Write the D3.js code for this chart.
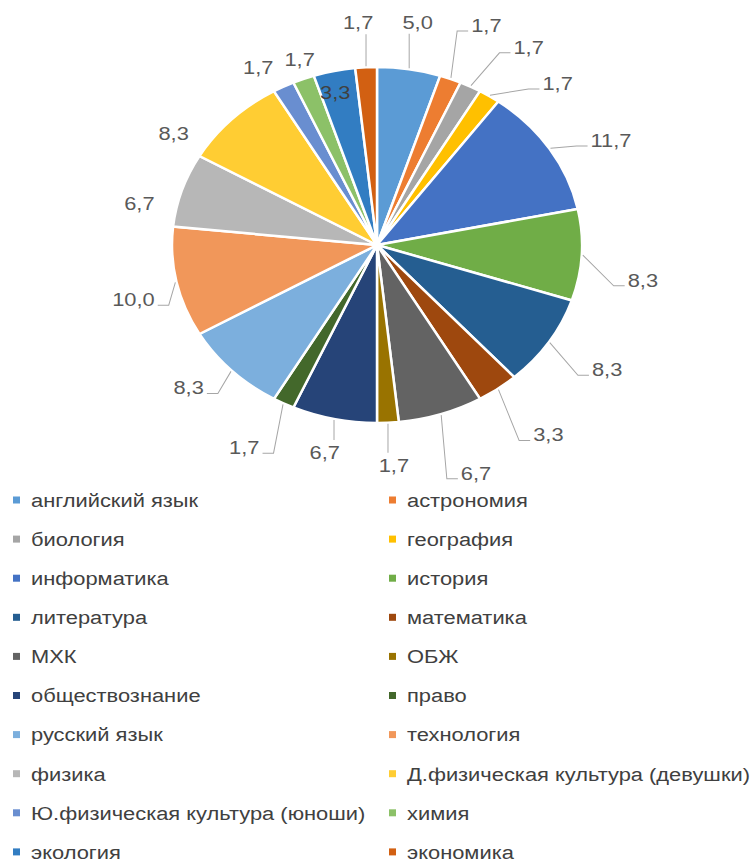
<!DOCTYPE html>
<html>
<head>
<meta charset="utf-8">
<script src="https://cdn.jsdelivr.net/npm/d3@7"></script>
<style>
  body { margin: 0; background: #fff; }
  svg { display: block; }
</style>
</head>
<body>
<div id="chart"></div>
<script>
var subjects = ["английский язык", "астрономия", "биология", "география", "информатика",
    "история", "литература", "математика", "МХК", "ОБЖ", "обществознание", "право",
    "русский язык", "технология", "физика", "Д.физическая культура (девушки)",
    "Ю.физическая культура (юноши)", "химия", "экология", "экономика"];
var shares = [5.0, 1.7, 1.7, 1.7, 11.7, 8.3, 8.3, 3.3, 6.7, 1.7, 6.7, 1.7,
    8.3, 10.0, 6.7, 8.3, 1.7, 1.7, 3.3, 1.7];
var colors = ["#5b9bd5", "#ed7d31", "#a5a5a5", "#ffc000", "#4472c4", "#70ad47",
    "#255e91", "#9e480e", "#636363", "#997300", "#264478", "#43682b",
    "#7cafdd", "#f1975a", "#b7b7b7", "#ffcd33", "#698ed0", "#8cc168", "#327dc2", "#d26012"];

// hand nudges for the data labels (screen px), like excel's "best fit"
var labelDx = [0, 16, 33, 38, 15, 6, 12, 18, 18, 3, 2, -14, -4, 11, 10, -19, 0, 16, -4, -5];
var labelDy = [0, -9, 3, 27, 17, 22, 1, 7, 13, -6, -14, 1, -17, 7, 28, 48, 23, 25, 1, 3];
var noLeader = ["физика", "Д.физическая культура (девушки)", "Ю.физическая культура (юноши)", "химия", "экология"];
var insideLabel = ["экология"];

(function() {
    var width = 756;
    var height = 861;
    var sx = 1.1517;            // the picture is a bit wider than tall
    var vbw = width / sx;
    var cx = 377 / sx, cy = 245, radius = 178;

    var svg = d3.select("#chart").append("svg")
        .attr("width", width)
        .attr("height", height)
        .attr("viewBox", "0 0 " + vbw + " " + height)
        .attr("preserveAspectRatio", "none");

    var ru = d3.formatLocale({decimal: ",", thousands: " ", grouping: [3], currency: ["", ""]});
    var fmt = ru.format(".1f");

    var data = subjects.map(function(s, i) {
        return {name: s, value: shares[i], color: colors[i], dx: labelDx[i], dy: labelDy[i]};
    });

    var pie = d3.pie().sort(null).value(function(d) { return d.value; });
    var arcs = pie(data);

    var arc = d3.arc().innerRadius(0).outerRadius(radius);
    var edgeArc = d3.arc().innerRadius(radius + 1).outerRadius(radius + 1);
    var outArc = d3.arc().innerRadius(226).outerRadius(226);
    var inArc = d3.arc().innerRadius(157).outerRadius(157);

    var g = svg.append("g").attr("transform", "translate(" + cx + "," + cy + ")");

    g.selectAll("path.slice")
        .data(arcs)
        .enter().append("path")
        .attr("class", "slice")
        .attr("d", arc)
        .attr("fill", function(d) { return d.data.color; })
        .attr("stroke", "#fff")
        .attr("stroke-width", 2.5)
        .attr("vector-effect", "non-scaling-stroke");

    var fs = 19;
    var labels = g.selectAll("text.lbl")
        .data(arcs)
        .enter().append("text")
        .attr("class", "lbl")
        .attr("text-anchor", "middle")
        .style("font-family", "'Liberation Sans', Arial, sans-serif")
        .style("font-size", fs + "px")
        .attr("fill", function(d) { return insideLabel.indexOf(d.data.name) >= 0 ? "#404040" : "#595959"; })
        .text(function(d) { return fmt(d.data.value); })
        .each(function(d) {
            var inside = insideLabel.indexOf(d.data.name) >= 0;
            var c = (inside ? inArc : outArc).centroid(d);
            d.lx = c[0] + d.data.dx / sx;
            d.ly = c[1] + d.data.dy;
            d.w = this.getComputedTextLength();
        })
        .attr("x", function(d) { return d.lx; })
        .attr("y", function(d) { return d.ly + 0.36 * fs; });

    // leader lines
    var hh = 7, gap = 3 / sx, elbow = 11 / sx;
    g.selectAll("polyline.leader")
        .data(arcs.filter(function(d) { return noLeader.indexOf(d.data.name) < 0; }))
        .enter().append("polyline")
        .attr("class", "leader")
        .attr("fill", "none")
        .attr("stroke", "#a6a6a6")
        .attr("stroke-width", 1)
        .attr("vector-effect", "non-scaling-stroke")
        .attr("points", function(d) {
            var s = edgeArc.centroid(d);
            var left = d.lx - d.w / 2, right = d.lx + d.w / 2;
            var pts;
            if (s[0] >= left - 2 && s[0] <= right + 2) {
                // label straight above or below
                var ey = s[1] < d.ly ? d.ly - hh - 5 : d.ly + hh + 5;
                pts = [s, [s[0], ey]];
            } else if (s[0] < left) {
                var e = [left - gap, d.ly + 6];
                pts = [s, [e[0] - elbow, e[1]], e];
            } else {
                var e2 = [right + gap, d.ly + 6];
                pts = [s, [e2[0] + elbow, e2[1]], e2];
            }
            return pts.map(function(p) { return p.join(","); }).join(" ");
        });

    // legend, two columns
    var rows = d3.scaleBand().domain(d3.range(10)).range([480.45, 871.45]);
    var cols = d3.scaleOrdinal().domain([0, 1]).range([13 / sx, 389 / sx]);
    var msize = 7;
    var lfs = 19;

    var items = svg.selectAll("g.legend")
        .data(data)
        .enter().append("g")
        .attr("class", "legend")
        .attr("transform", function(d, i) {
            return "translate(" + cols(i % 2) + "," + (rows(Math.floor(i / 2)) + rows.bandwidth() / 2) + ")";
        });

    items.append("rect")
        .attr("x", 0)
        .attr("y", -msize / 2)
        .attr("width", msize / sx)
        .attr("height", msize)
        .attr("fill", function(d) { return d.color; });

    items.append("text")
        .attr("x", 18 / sx)
        .attr("y", 0.36 * lfs)
        .style("font-family", "'Liberation Sans', Arial, sans-serif")
        .style("font-size", lfs + "px")
        .attr("fill", "#404040")
        .text(function(d) { return d.name; });
})();
</script>
</body>
</html>
